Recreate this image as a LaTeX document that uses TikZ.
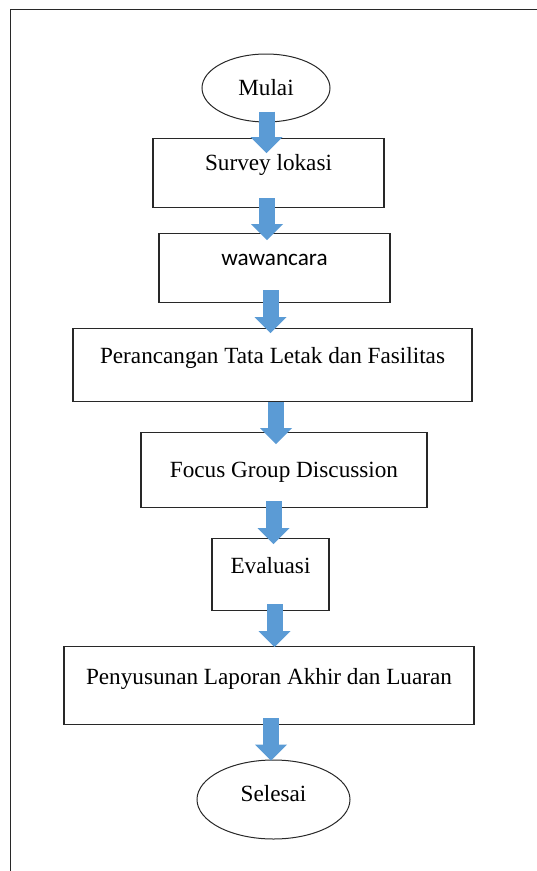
\documentclass[tikz,border=0pt]{standalone}
\usepackage{fontspec}
\setmainfont{Liberation Serif}
\newfontfamily\calibri{Carlito}
\usetikzlibrary{arrows.meta,calc,shapes.geometric}
\definecolor{biru}{RGB}{91,155,213}
\definecolor{garis}{RGB}{40,40,40}

\begin{document}
\begin{tikzpicture}[x=1pt,y=-1pt,
  kotak/.style={draw=garis,line width=1.2pt,inner sep=0pt,fill=white},
  oval/.style={ellipse,draw=garis,line width=1pt,inner sep=0pt,fill=white},
  panah/.style={draw=biru,line width=16pt,-{Triangle[width=32pt,length=16pt,line width=0pt]}},
  font=\fontsize{23.2}{28}\selectfont]
  \useasboundingbox (0,0) rectangle (537,871);
  % bingkai luar
  \draw[garis,line width=1.3pt] (10.7,875) -- (10.7,9.3) -- (540,9.3);
  % langkah-langkah
  \node[oval,minimum width=128pt,minimum height=68pt] (mulai) at (266,88) {Mulai};
  \node[kotak,anchor=north,minimum width=231pt,text height=32pt,text depth=37pt] (survey) at (268.5,138) {Survey lokasi};
  \node[kotak,anchor=north,minimum width=231pt,text height=31.5pt,text depth=37.5pt] (wawancara) at (274.5,233) {\calibri wawancara};
  \node[kotak,anchor=north,minimum width=399pt,text height=35pt,text depth=38pt] (perancangan) at (272.5,328) {Perancangan Tata Letak dan Fasilitas};
  \node[kotak,anchor=north,minimum width=286pt,text height=45pt,text depth=30pt] (fgd) at (284,432) {Focus Group Discussion};
  \node[kotak,anchor=north,minimum width=117pt,text height=35pt,text depth=37pt] (evaluasi) at (270.5,538) {Evaluasi};
  \node[kotak,anchor=north,minimum width=410pt,text height=38pt,text depth=40pt] (laporan) at (269,646) {Penyusunan Laporan Akhir dan Luaran};
  \node[oval,minimum width=153pt,minimum height=79pt,text depth=13pt] (selesai) at (273.5,799.5) {Selesai};
  % panah blok
  \draw[panah] ($(mulai.south)+(0.5,-11)$) -- ($(mulai.south |- survey.north)+(0.5,15)$);
  \draw[panah] ($(survey.south)+(-1.5,-10)$) -- ($(survey.south |- wawancara.north)+(-1.5,7)$);
  \draw[panah] ($(wawancara.south)+(-4,-13)$) -- ($(wawancara.south |- perancangan.north)+(-4,5)$);
  \draw[panah] ($(perancangan.south)+(3.5,0)$) -- ($(perancangan.south |- fgd.north)+(3.5,12)$);
  \draw[panah] ($(fgd.south)+(-10.5,-7)$) -- ($(fgd.south |- evaluasi.north)+(-10.5,6)$);
  \draw[panah] ($(evaluasi.south)+(4,-7)$) -- ($(evaluasi.south |- laporan.north)+(4,1)$);
  \draw[panah] ($(laporan.south)+(2,-7)$) -- ($(laporan.south |- selesai.north)+(2,1)$);
\end{tikzpicture}
\end{document}
